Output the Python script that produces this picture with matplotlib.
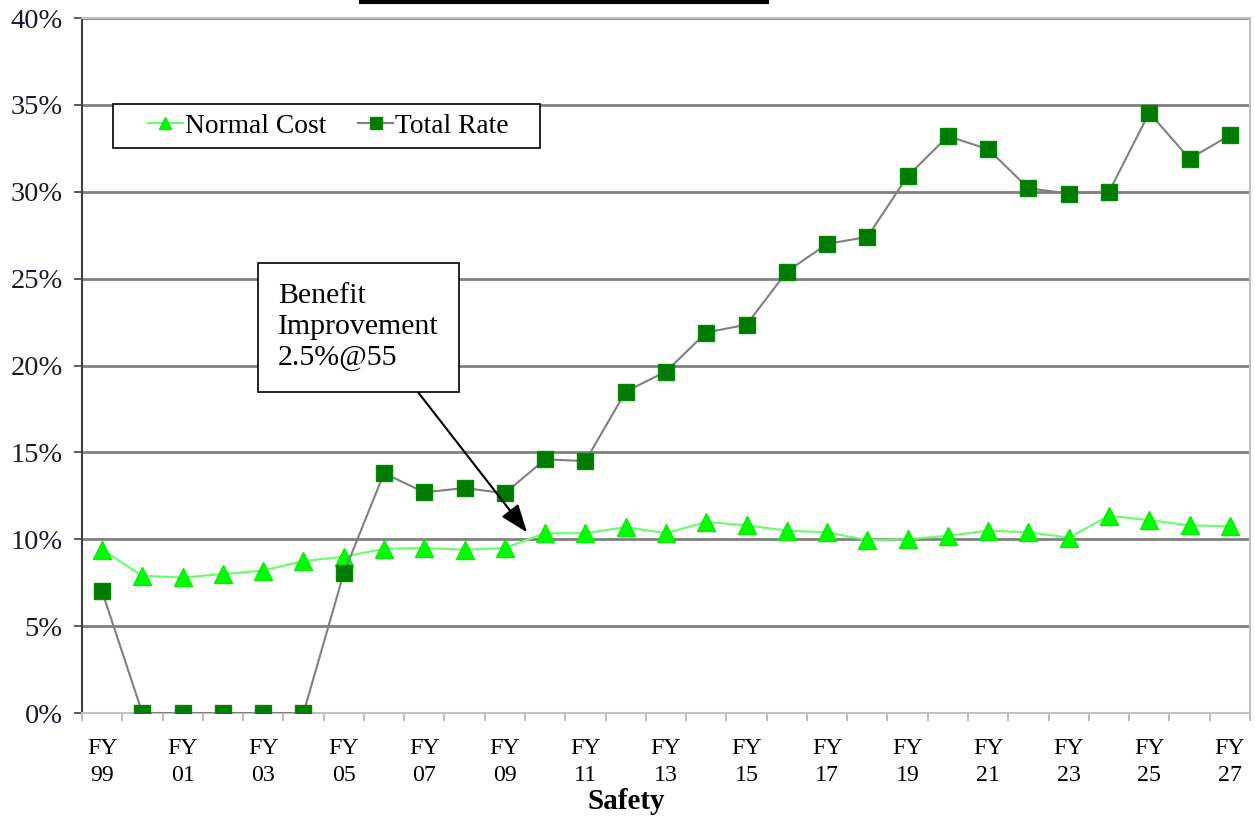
import matplotlib.pyplot as plt
from matplotlib.lines import Line2D
from matplotlib.patches import Rectangle

plt.rcParams['font.family'] = ['Liberation Serif', 'DejaVu Serif']

# Fiscal years FY99 .. FY27
years = ["99", "00", "01", "02", "03", "04", "05", "06", "07", "08",
         "09", "10", "11", "12", "13", "14", "15", "16", "17", "18",
         "19", "20", "21", "22", "23", "24", "25", "26", "27"]

normal_cost = [9.4, 7.9, 7.8, 8.0, 8.2, 8.75, 9.0, 9.45, 9.5, 9.4,
               9.5, 10.35, 10.35, 10.7, 10.35, 11.0, 10.8, 10.5, 10.4, 9.95,
               10.0, 10.2, 10.5, 10.4, 10.1, 11.35, 11.1, 10.8, 10.75]

total_rate = [7.0, 0.0, 0.0, 0.0, 0.0, 0.0, 8.05, 13.8, 12.7, 12.95,
              12.65, 14.6, 14.5, 18.5, 19.65, 21.9, 22.35, 25.4, 27.0, 27.4,
              30.9, 33.2, 32.45, 30.2, 29.9, 30.0, 34.55, 31.9, 33.25]

yticks = [0, 5, 10, 15, 20, 25, 30, 35, 40]

fig = plt.figure(figsize=(12.55, 8.19), dpi=100)
ax = fig.add_axes([0.0653, 0.1294, 0.9307, 0.8486])

x = list(range(len(years)))

ax.plot(x, normal_cost, color='#66FF66', lw=1.5, marker='^', ms=13,
        mfc='#00FF00', mec='#00EE00', label='Normal Cost', zorder=3)
ax.plot(x, total_rate, color='#808080', lw=1.5, marker='s', ms=11,
        mfc='#007A00', mec='#008A00', label='Total Rate', zorder=4)

ax.set_xlim(-0.5, len(years) - 0.5)
ax.set_ylim(0, 40)
ax.set_yticks(yticks)
ax.set_yticklabels([f"{v}%" for v in yticks], fontsize=20.5, color='#1a1a2e')
ax.yaxis.grid(True, color='#808080', lw=2)
ax.set_axisbelow(True)

# category boundaries as ticks, labels every other year
ax.set_xticks([i - 0.5 for i in range(len(years) + 1)])
ax.set_xticklabels([])
ax.set_xticks(x[::2], minor=True)
ax.set_xticklabels(["FY\n" + y for y in years[::2]], minor=True,
                   fontsize=17.2, linespacing=1.35)
ax.tick_params(axis='x', which='major', length=6, color='#b0b0b0', width=1.2)
ax.tick_params(axis='x', which='minor', length=0, pad=18)
ax.tick_params(axis='y', length=6, width=1.2, color='#404040', pad=8)

ax.spines['left'].set_color('#404040')
ax.spines['left'].set_linewidth(1.5)
for s in ['bottom', 'top', 'right']:
    ax.spines[s].set_color('#c0c0c0')
    ax.spines[s].set_linewidth(1.5)

ax.set_xlabel("Safety", fontsize=21, fontweight='bold')
ax.xaxis.label.set_va('center')
ax.xaxis.set_label_coords(0.466, -0.128)

# legend frame drawn by hand to get the wide side padding
ax.add_patch(Rectangle((0.0265, 0.813), 0.3655, 0.063, transform=ax.transAxes,
                       fc='white', ec='black', lw=1.2, zorder=5))
leg = ax.legend(loc='center left', bbox_to_anchor=(0.0565, 0.8446), ncol=2,
                fontsize=19.8, frameon=False, handlelength=1.27,
                handletextpad=0.08, columnspacing=1.16, borderpad=0,
                borderaxespad=0)
leg.set_zorder(6)
for h in leg.legend_handles:
    h.set_markersize(9)

ax.annotate("Benefit\nImprovement\n2.5%@55", xy=(10.55, 10.4), xytext=(4.37, 22.2),
            fontsize=21.5, linespacing=1.25, ha='left', va='center',
            bbox=dict(boxstyle='square,pad=0.68', fc='white', ec='black', lw=1.2),
            arrowprops=dict(arrowstyle='-|>,head_width=0.3,head_length=0.8',
                            color='black', lw=1.5, shrinkA=0, shrinkB=0,
                            relpos=(0.77, 0.0)),
            zorder=6)

# remnant of the cut-off title underline
fig.add_artist(Line2D([361 / 1255, 767 / 1255], [1 - 1.5 / 819, 1 - 1.5 / 819],
                      transform=fig.transFigure, color='black', lw=3))

fig.savefig("out.png", dpi=100)
